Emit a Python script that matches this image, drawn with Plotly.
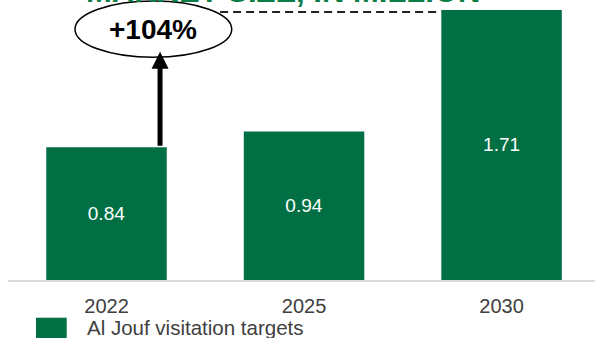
import plotly.graph_objects as go

categories = ["2022", "2025", "2030"]
values = [0.84, 0.94, 1.71]
value_labels = ["0.84", "0.94", "1.71"]
series_name = "Al Jouf visitation targets"
growth_label = "+104%"
title_text = "MARKET SIZE, IN MILLION"

BAR = "#006f44"
TITLE_GREEN = "#0a7d46"
FONT = "Liberation Sans, Arial, sans-serif"

fig = go.Figure()
fig.add_trace(go.Bar(
    x=list(range(len(categories))), y=values,
    text=value_labels, textposition="inside", insidetextanchor="middle",
    textfont=dict(color="white", size=19, family=FONT),
    marker=dict(color=BAR, line=dict(width=0)),
    width=0.61, name=series_name, showlegend=False,
    hoverinfo="skip",
))

fig.update_layout(
    width=595, height=338,
    margin=dict(l=8, r=0, t=0, b=58),
    plot_bgcolor="white", paper_bgcolor="white",
    font=dict(family=FONT, color="#404040"),
    xaxis=dict(
        range=[-0.4987, 2.473], tickmode="array",
        tickvals=list(range(len(categories))), ticktext=categories,
        tickfont=dict(size=20, color="#404040", family=FONT),
        showline=True, linecolor="#d9d9d9", linewidth=2,
        showgrid=False, zeroline=False, ticks="", ticklabelstandoff=7,
    ),
    yaxis=dict(range=[0, 1.773], visible=False, showgrid=False, zeroline=False),
)

# clipped title at top
fig.add_annotation(x=(283 - 8) / 587, y=1.0, xref="paper", yref="paper",
                   text="<b>" + title_text + "</b>", showarrow=False,
                   xanchor="center", yanchor="bottom", yshift=-11,
                   font=dict(size=31, color=TITLE_GREEN, family=FONT))

# growth ellipse
fig.add_shape(type="circle", xref="x", yref="y",
              x0=-0.1595, x1=0.634, y0=1.410, y1=1.767,
              line=dict(color="black", width=1.5), fillcolor="white", layer="above")
fig.add_annotation(x=0.2375, y=1.588, xref="x", yref="y", text="<b>" + growth_label + "</b>",
                   showarrow=False, font=dict(size=28, color="black", family=FONT))

# arrow from first bar to ellipse
fig.add_annotation(x=0.271, y=1.446, ax=0.271, ay=values[0], xref="x", yref="y",
                   axref="x", ayref="y", text="", showarrow=True,
                   arrowhead=2, arrowwidth=5, arrowsize=0.68, arrowcolor="black")

# dashed line from ellipse to last bar
fig.add_shape(type="line", xref="x", yref="y", x0=0.575, x1=2 - 0.305, y0=1.697, y1=1.697,
              line=dict(color="#222222", width=2, dash="8px,5px"))

# legend (manual)
fig.add_shape(type="rect", xref="paper", yref="paper",
              x0=(36 - 8) / 587, x1=(66.7 - 8) / 587, y0=-(338 - 280 + 5) / 280, y1=-(317.7 - 280) / 280,
              fillcolor=BAR, line=dict(width=0))
fig.add_annotation(x=(85 - 8) / 587, y=-(327 - 280) / 280, xref="paper", yref="paper",
                   text=series_name, showarrow=False, xanchor="left", yanchor="middle",
                   font=dict(size=20.5, color="#404040", family=FONT))

fig.write_html("out.html")
